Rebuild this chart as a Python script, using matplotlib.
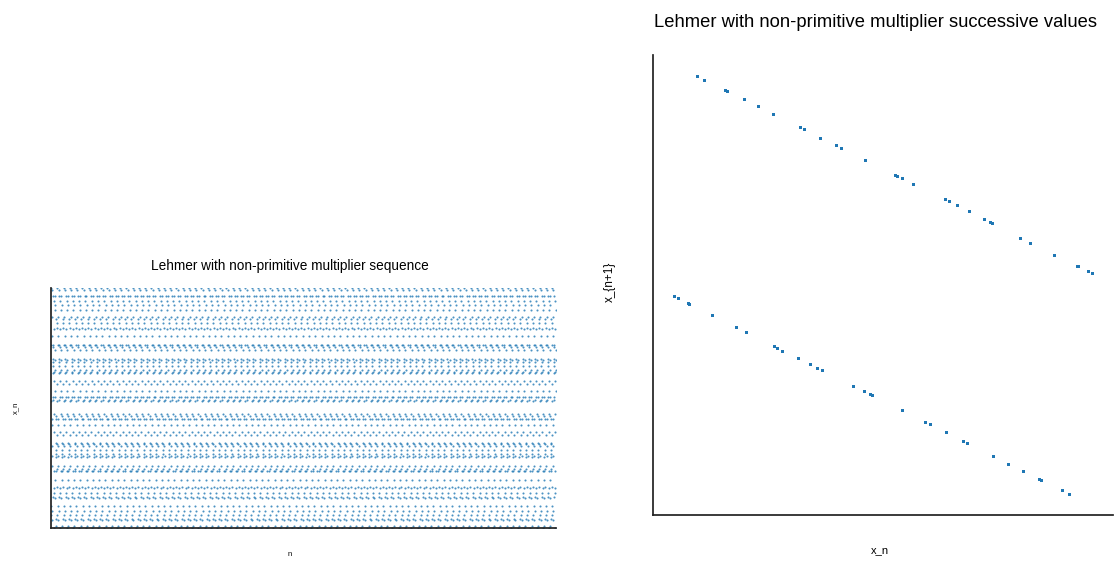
import numpy as np
import matplotlib
matplotlib.use("Agg")
import matplotlib.pyplot as plt

plt.rcParams['font.family'] = ['Liberation Sans', 'DejaVu Sans']

# One period (62 values) of the Lehmer sequence, in per-mille of the modulus,
# read from the successive-values scatter and ordered by following the chain.
period_values = [
    99.4, 950.2, 525.2, 737.8, 131.4, 434.5, 282.2, 358.4, 320.7, 840.1,
    79.9, 460.0, 769.6, 114.7, 942.3, 528.9, 735.6, 632.5, 684.1, 658.6,
    671.7, 164.7, 918.4, 541.1, 729.8, 634.7, 182.1, 408.4, 795.7, 602.0,
    199.5, 900.1, 49.4, 475.8, 262.6, 869.0, 565.1, 717.4, 641.2, 679.7,
    160.4, 919.7, 540.5, 230.0, 884.9, 58.1, 471.5, 264.1, 367.9, 315.7,
    341.8, 328.8, 834.9, 82.0, 458.4, 270.7, 364.9, 817.5, 591.2, 203.9,
    397.5, 801.6,
]
n_samples = 5000

seq = np.resize(np.array(period_values), n_samples)
n = np.arange(n_samples)

W, H = 1116, 562
fig = plt.figure(figsize=(W / 100, H / 100), dpi=100)

def px_axes(x0, y0, x1, y1):
    return fig.add_axes([x0 / W, 1 - y1 / H, (x1 - x0) / W, (y1 - y0) / H])

blue = '#1f77b4'

ax1 = px_axes(51, 288, 556, 528)
ax1.plot(n, seq, 'o', ms=1.5, mew=0, color=blue, alpha=0.8)
ax1.margins(0)
ax1.set_title("Lehmer with non-primitive multiplier sequence", fontsize=9.8,
              pad=13, x=0.473)
ax1.set_xlabel("n", fontsize=5.5)
ax1.xaxis.set_label_coords(0.473, -0.095)
ax1.set_ylabel("x_n", fontsize=5.5)
ax1.yaxis.set_label_coords(-0.064, 0.5)

ax2 = px_axes(653, 55, 1113, 515)
ax2.plot(seq[:-1], seq[1:], 'o', ms=2.0, mew=0, color=blue)
ax2.set_title("Lehmer with non-primitive multiplier successive values",
              fontsize=13.2, pad=20, x=0.483)
ax2.set_xlabel("x_n", fontsize=8)
ax2.xaxis.set_label_coords(0.493, -0.066)
ax2.set_ylabel("x_{n+1}", fontsize=8.5)
ax2.yaxis.set_label_coords(-0.081, 0.507)

for ax in (ax1, ax2):
    ax.set_xticks([])
    ax.set_yticks([])
    ax.spines['top'].set_visible(False)
    ax.spines['right'].set_visible(False)
    for s in ('left', 'bottom'):
        ax.spines[s].set_color('#222222')
        ax.spines[s].set_linewidth(1.25)

fig.savefig("out.png", dpi=100)
